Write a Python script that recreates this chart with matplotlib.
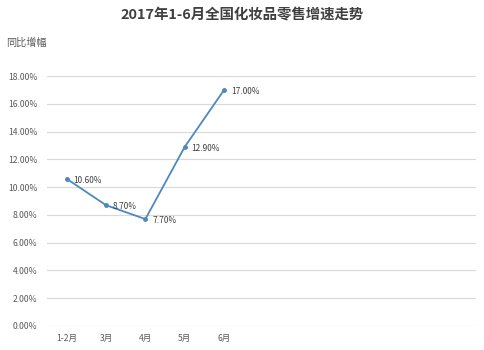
import matplotlib
matplotlib.use("Agg")
import matplotlib.pyplot as plt
from matplotlib.ticker import FuncFormatter

plt.rcParams['font.family'] = ['Noto Sans CJK SC', 'DejaVu Sans']

months = ["1-2月", "3月", "4月", "5月", "6月"]
growth = [0.106, 0.087, 0.077, 0.129, 0.170]
labels = ["10.60%", "8.70%", "7.70%", "12.90%", "17.00%"]
yticks = [0.00, 0.02, 0.04, 0.06, 0.08, 0.10, 0.12, 0.14, 0.16, 0.18]

fig = plt.figure(figsize=(4.85, 3.5), dpi=100)
ax = fig.add_axes([0.097, 0.0686, 0.884, 0.714])

x = list(range(len(months)))
ax.plot(x, growth, color="#4F87BF", lw=1.3, marker="o", ms=2.5, zorder=3)
for xi, yi, lab in zip(x, growth, labels):
    ax.annotate(lab, (xi, yi), xytext=(5, -1), textcoords="offset points",
                ha="left", va="center", fontsize=6, color="#404040")

ax.set_xlim(-0.5, 10.4)
ax.set_ylim(0, 0.18)
ax.set_yticks(yticks)
ax.yaxis.set_major_formatter(FuncFormatter(lambda v, p: f"{v*100:.2f}%"))
ax.set_xticks(x)
ax.set_xticklabels(months)
ax.tick_params(axis="both", length=0, labelsize=6.2, labelcolor="#595959")
ax.tick_params(axis="y", pad=7)
ax.tick_params(axis="x", pad=6)
ax.grid(axis="y", color="#D9D9D9", lw=0.8)
ax.set_axisbelow(True)
for s in ax.spines.values():
    s.set_visible(False)

fig.text(0.5, 0.955, "2017年1-6月全国化妆品零售增速走势", ha="center", va="center",
         fontsize=10.4, fontweight="bold", color="#404040")
fig.text(0.012, 0.877, "同比增幅", ha="left", va="center", fontsize=7.3, color="#595959")

fig.savefig("out.png", dpi=100)
